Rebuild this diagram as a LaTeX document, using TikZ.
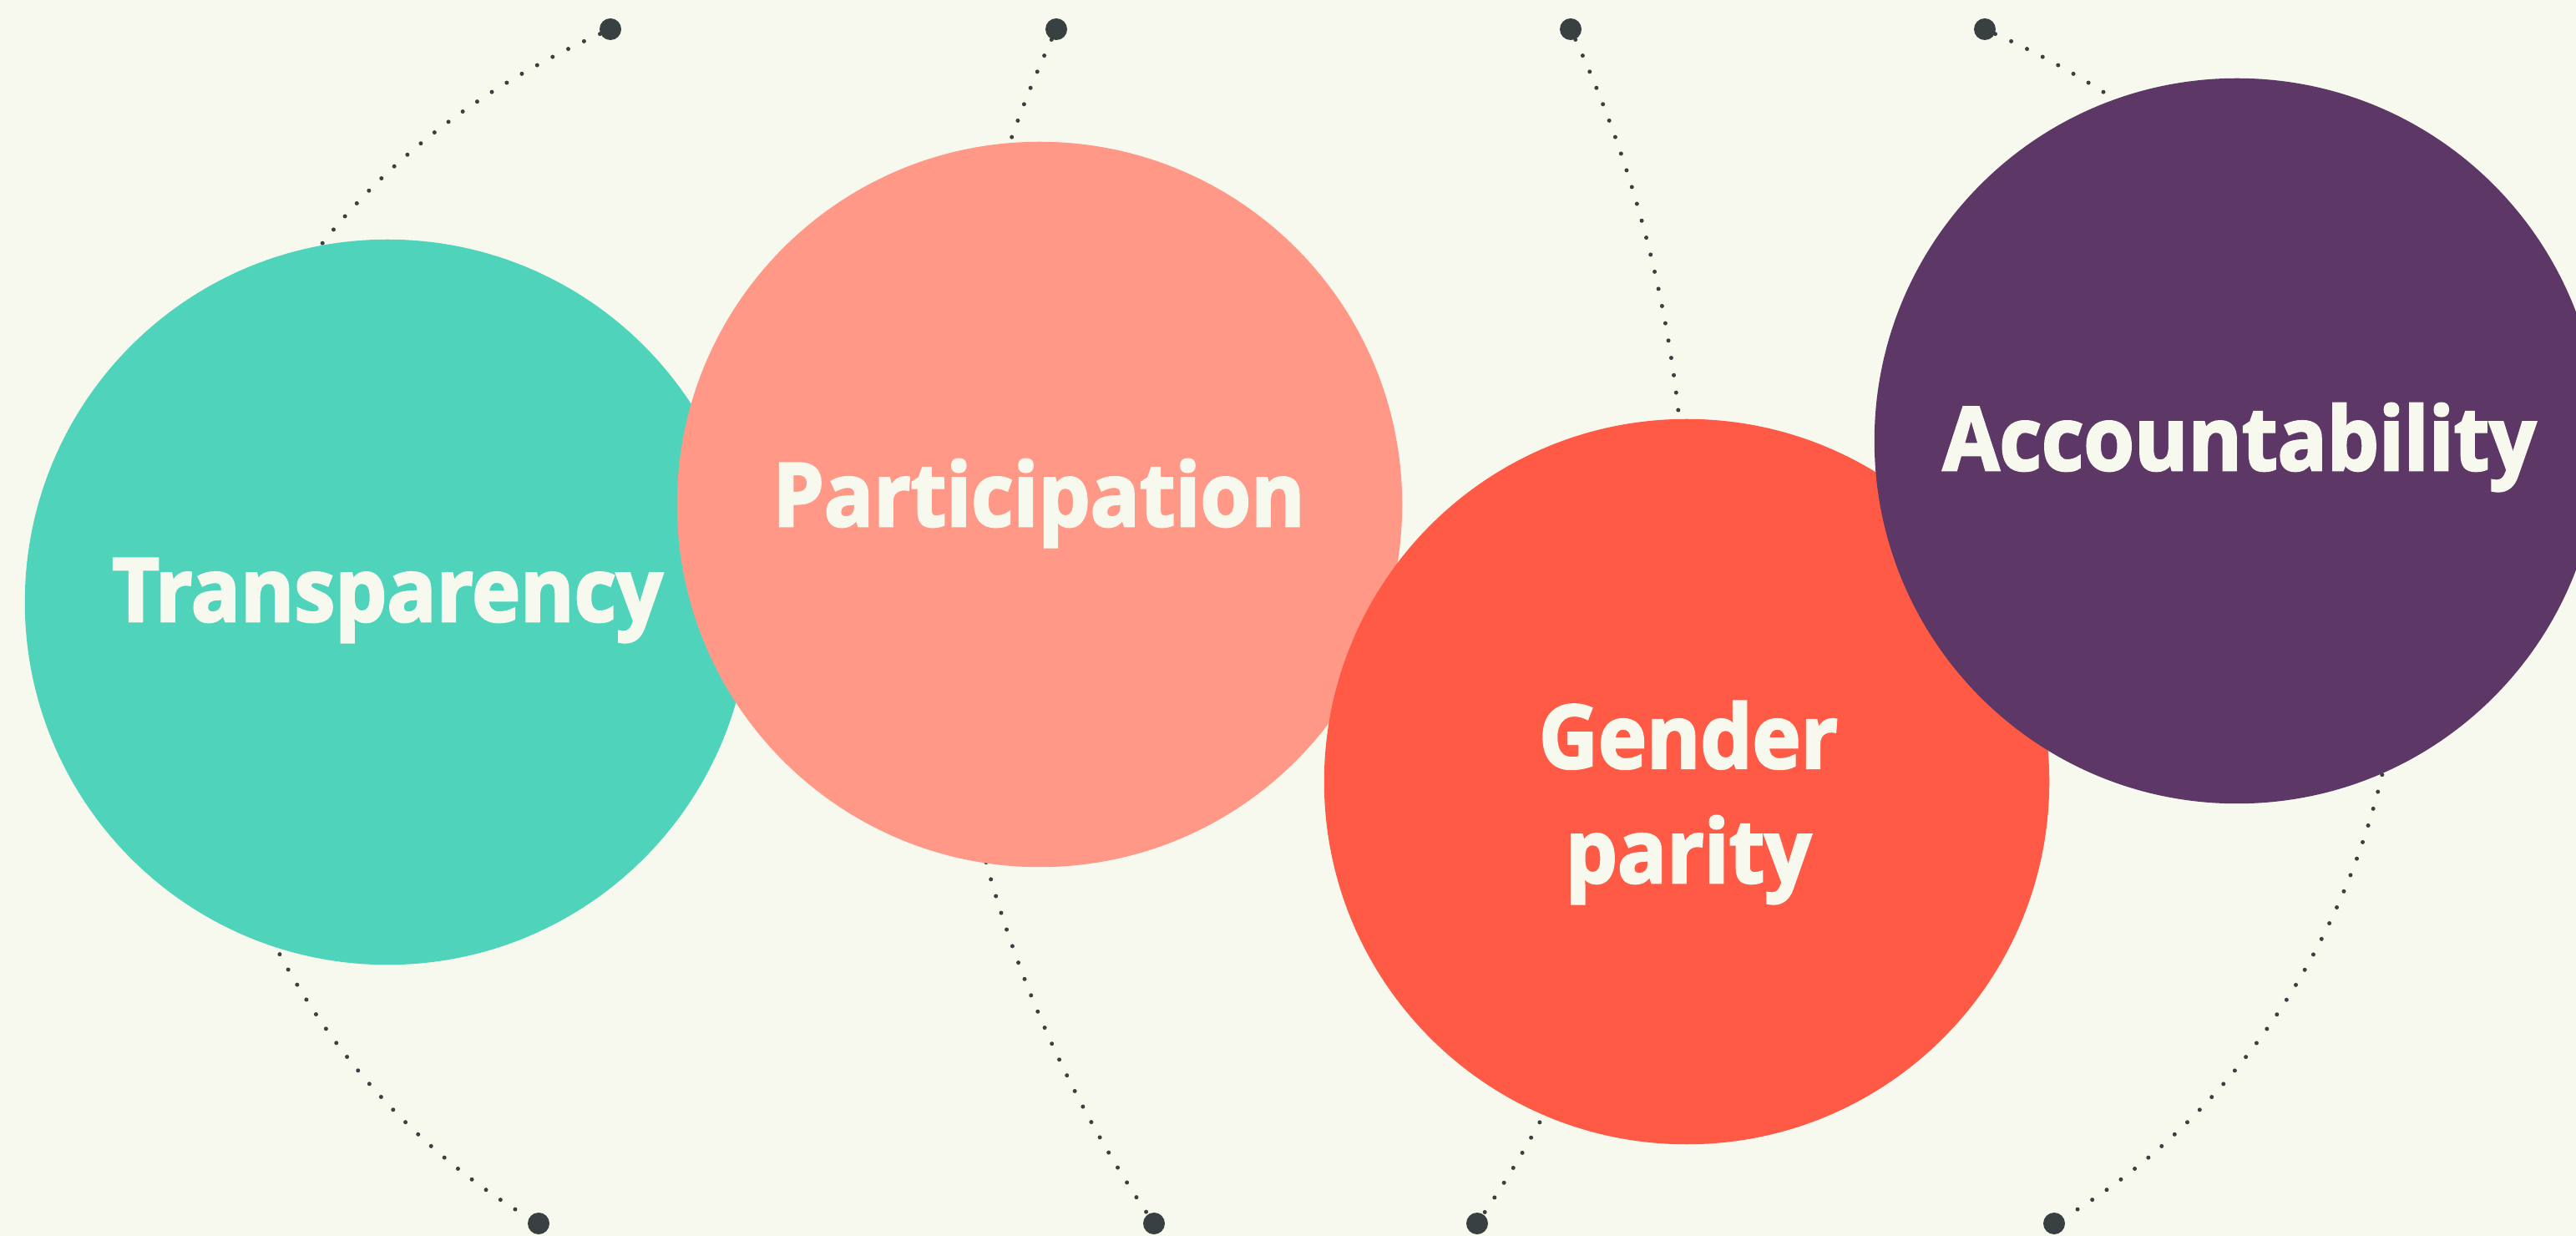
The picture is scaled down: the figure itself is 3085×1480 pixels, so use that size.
\documentclass[tikz,border=0pt]{standalone}
\usepackage{fontspec}
\newfontfamily\bubblefont{Open Sans}[BoldFeatures={FakeBold=2.5, FakeStretch=0.93}]
\usetikzlibrary{positioning}

\definecolor{paper}{HTML}{F7F9EE}
\definecolor{ink}{HTML}{384042}
\definecolor{mint}{HTML}{4FD4BB}
\definecolor{peach}{HTML}{FF9886}
\definecolor{coral}{HTML}{FF5A45}
\definecolor{plum}{HTML}{5D3866}

\tikzset{
    bubble/.style={circle, minimum size=8.68cm, inner sep=0pt, draw=none}, % the four big discs
    bubble text/.style={text=paper, font=\bubblefont\bfseries\fontsize{30}{39}\selectfont, align=center, inner sep=0pt},
    pin/.style={circle, fill=ink, minimum size=0.26cm, inner sep=0pt}, % end points of the trails
    trail/.style={draw=ink, line width=0.05cm, line cap=round, dash pattern=on 0pt off 0.21cm},
}

\begin{document}
\begin{tikzpicture}[x=0.01cm, y=-0.01cm]
    % Hintergrund
    \fill[paper] (0,0) rectangle (3085,1480);
    \clip (0,0) rectangle (3085,1480);

    % Endpunkte
    \node[pin] (top1) at (731,35) {};
    \node[pin] (top2) at (1265,35) {};
    \node[pin] (top3) at (1881,35) {};
    \node[pin] (top4) at (2377,35) {};
    \node[pin] (bot1) at (645,1465) {};
    \node[pin] (bot2) at (1382,1465) {};
    \node[pin] (bot3) at (1769,1465) {};
    \node[pin] (bot4) at (2460,1465) {};

    % Punktlinien
    \draw[trail] (top1) .. controls +(-714,321) and +(-494,-294) .. (bot1);
    \draw[trail] (top2) .. controls +(-214,464) and +(-287,-423) .. (bot2);
    \draw[trail] (top3) .. controls +(214,464) and +(287,-423) .. (bot3);
    \draw[trail] (top4) .. controls +(714,321) and +(494,-294) .. (bot4);

    % Kreise
    \node[bubble, fill=mint] (transp) at (464,721) {};
    \node[bubble, fill=peach] (partic) at (1245,604) {};
    \node[bubble, fill=coral] (gender) at (2020,936) {};
    \node[bubble, fill=plum] (account) at (2679,528) {};

    % Beschriftungen
    \node[bubble text, anchor=base] (ltransp) at (464,744) {Transparency};
    \node[bubble text, anchor=base] (lpartic) at (1244,630) {Participation};
    \node[bubble text, anchor=base] (lgender) at (2022,1057) {Gender\\parity};
    \node[bubble text, anchor=base] (laccount) at (2682,563) {Accountability};
\end{tikzpicture}
\end{document}
